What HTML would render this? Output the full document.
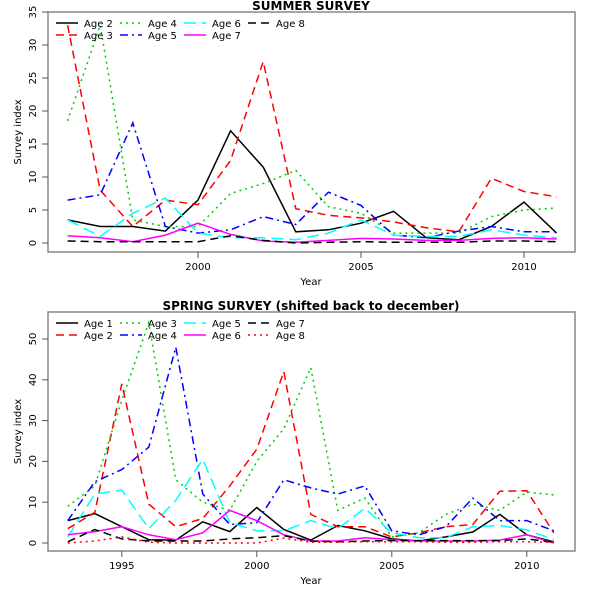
<!DOCTYPE html>
<html><head><meta charset="utf-8"><style>body{margin:0;background:#fff}svg{font-family:"DejaVu Sans","Liberation Sans",sans-serif}</style></head>
<body>
<svg id="c" width="600" height="600" xmlns="http://www.w3.org/2000/svg"></svg>
<script>
const summerYears=[1996,1997,1998,1999,2000,2001,2002,2003,2004,2005,2006,2007,2008,2009,2010,2011];
const summerNames=["Age 2","Age 3","Age 4","Age 5","Age 6","Age 7","Age 8"];
const sAge2=[3.5,2.5,2.5,1.8,6.5,17,11.5,1.7,2.0,3.0,4.8,0.8,0.5,2.5,6.2,1.5];
const sAge3=[33,8,2.5,6.5,5.8,12.5,27.5,5.2,4.2,3.8,3.2,2.3,1.7,9.8,7.8,7.0];
const sAge4=[18.5,33,3.5,2.5,2.5,7.5,9,11,5.5,4.5,1.5,1.5,1.5,4,5,5.3];
const sAge5=[6.5,7.3,18.2,2.5,1.5,2,4,2.8,7.7,5.7,1.2,0.8,1.8,2.5,1.7,1.7];
const sAge6=[3.5,1,4.5,6.8,1.5,0.8,0.8,0.5,1.5,3.5,1.2,1.0,1.0,2.0,1.2,0.8];
const sAge7=[1.1,0.8,0.2,1.2,3.0,1.3,0.3,0.1,0.4,0.7,0.6,0.4,0.4,0.7,0.8,0.6];
const sAge8=[0.3,0.2,0.2,0.2,0.2,1.1,0.4,0.0,0.1,0.2,0.1,0.1,0.1,0.3,0.3,0.2];
const summerYTicks=[0,5,10,15,20,25,30,35];
const summerXTicks=[2000,2005,2010];

const springYears=[1993,1994,1995,1996,1997,1998,1999,2000,2001,2002,2003,2004,2005,2006,2007,2008,2009,2010,2011];
const springNames=["Age 1","Age 2","Age 3","Age 4","Age 5","Age 6","Age 7","Age 8"];
const pAge1=[5.5,7.2,4.0,0.8,0.7,5.2,2.8,8.7,3.3,0.7,4.3,3.0,1.0,0.5,1.5,2.7,7.0,2.0,0.3];
const pAge2=[3.5,7.5,39,9.5,4,6,14,23,42,7,4,4,1.5,2.5,4,4.5,12.7,12.8,2.5];
const pAge3=[9,14,35,54,15.5,10,8,20,28,43,8,11,1.5,2.5,7,9.5,8,12.5,11.8];
const pAge4=[5.5,15,18,23.5,48,12,4.5,5,15.5,13.5,12,14,3,2,4,11,5.5,5.5,3];
const pAge5=[1.5,12,13,3.5,10.5,20.5,5,3.0,3,5.5,3.5,8.5,2.5,1.3,1.3,4.0,4.3,3.2,0.8];
const pAge6=[2.0,2.8,4,2.0,0.8,2.5,8.0,5.5,2.0,0.5,0.5,1.3,0.8,0.5,0.5,0.5,0.7,2.0,0.0];
const pAge7=[0.3,3.3,1.0,0.5,0.5,0.5,1.0,1.3,1.8,0.5,0.3,0.5,0.6,0.6,0.6,0.6,0.6,1.0,0.2];
const pAge8=[0.0,0.5,1.5,0.2,0.0,0.0,0.0,0.0,1.2,0.2,0.2,0.3,0.3,0.3,0.2,0.2,0.3,0.3,0.2];
const springYTicks=[0,10,20,30,40,50];
const springXTicks=[1995,2000,2005,2010];

const styles=[["#000",""],["#f00","8,5"],["#0c0","2,4"],["#00f","8,4,2,4"],["#0ff","12,6"],["#f0f",""],["#000","8,5"],["#f00","2,4"]];
const svg=document.getElementById('c');
const NS="http://www.w3.org/2000/svg";
function mk(t,a,p){const e=document.createElementNS(NS,t);for(const k in a)e.setAttribute(k,a[k]);(p||svg).appendChild(e);return e;}

function panel(cfg){
  const top=cfg.top,bot=cfg.bot,x0=cfg.x0,yrs=cfg.yrs,series=cfg.series,names=cfg.names,key=cfg.key;
  const L=48,R=575;
  const xs=v=>cfg.xa+(v-x0)*cfg.xk;
  const ys=v=>cfg.ya-(v)*cfg.yk;
  const g=mk('g',{});
  
  
  const t=mk('text',{x:311,y:top-2,'text-anchor':'middle','font-size':12,'font-weight':'bold'},g);
  t.textContent=cfg.title;
  
  
  series.forEach((s,i)=>{
    const st=styles[i];
    const pts=s.map((v,j)=>xs(yrs[j]).toFixed(1)+','+ys(v).toFixed(1)).join(' ');
    const pl=mk('polyline',{points:pts,fill:'none',stroke:st[0],'stroke-width':1.5,'stroke-dasharray':st[1]||'none'},g);
    
    
  });
  const box=mk('rect',{x:L,y:top,width:R-L,height:bot-top,fill:'none',stroke:'#888','stroke-width':1.5},g);
  
  
  cfg.yt.forEach(v=>{
    mk('line',{x1:L-6,x2:L,y1:ys(v),y2:ys(v),stroke:'#555'},g);
    const tx=mk('text',{x:36,y:ys(v),'font-size':10,'text-anchor':'middle',transform:'rotate(-90 36 '+ys(v)+')'},g);
    tx.textContent=v;
    
    
  });
  cfg.xt.forEach(v=>{
    mk('line',{x1:xs(v),x2:xs(v),y1:bot,y2:bot+6,stroke:'#555'},g);
    const tx=mk('text',{x:xs(v),y:bot+18,'font-size':10,'text-anchor':'middle'},g);
    tx.textContent=v;
    
    
  });
  const xl=mk('text',{x:311,y:bot+33,'font-size':10,'text-anchor':'middle'},g);
  xl.textContent='Year';
  
  
  const cy=(top+bot)/2;
  const yl=mk('text',{x:21,y:cy,'font-size':10,'text-anchor':'middle',transform:'rotate(-90 21 '+cy+')'},g);
  yl.textContent='Survey index';
  
  
}
panel({top:12,bot:252,x0:1996,xa:67.6,xk:32.6,ya:243,yk:6.6,yrs:summerYears,
  series:[sAge2,sAge3,sAge4,sAge5,sAge6,sAge7,sAge8],names:summerNames,yt:summerYTicks,xt:summerXTicks,
  title:'SUMMER SURVEY',key:'summer'});
panel({top:312,bot:551,x0:1993,xa:67.8,xk:27.0,ya:543,yk:4.08,yrs:springYears,
  series:[pAge1,pAge2,pAge3,pAge4,pAge5,pAge6,pAge7,pAge8],names:springNames,yt:springYTicks,xt:springXTicks,
  title:'SPRING SURVEY (shifted back to december)',key:'spring'});
function legend(top,names){
  names.forEach((n,i)=>{
    const st=styles[i];
    const col=Math.floor(i/2), row=i%2;
    const lx=56+col*64, ly=top+15+row*12;
    const ll=mk('line',{x1:lx,x2:lx+22,y1:ly-4,y2:ly-4,stroke:st[0],'stroke-width':1.5,'stroke-dasharray':st[1]||'none'});
    
    
    const lt=mk('text',{x:lx+28,y:ly,'font-size':10});
    lt.textContent=n;
    
    
  });
}
legend(12,summerNames);
legend(312,springNames);
</script>
</body></html>
